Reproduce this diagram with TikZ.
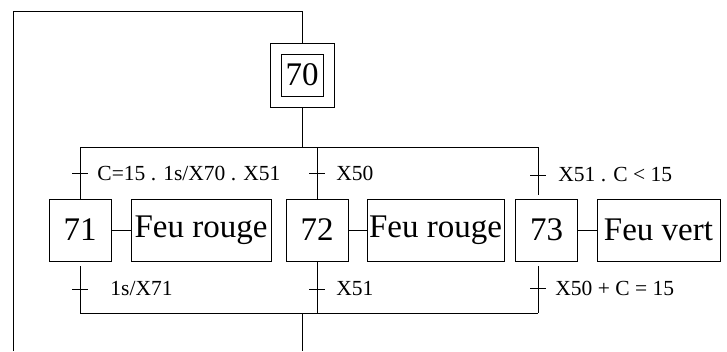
\documentclass[tikz,border=0pt]{standalone}
\usepackage{fontspec}
\setmainfont{Liberation Serif}
\usetikzlibrary{positioning}

\tikzset{
  stepbox/.style={draw,minimum width=62pt,minimum height=62pt,inner sep=2pt,
    font=\fontsize{33}{36}\selectfont},
  actbox/.style={draw,minimum height=62pt,inner sep=2pt,
    font=\fontsize{33}{36}\selectfont},
  cond/.style={anchor=west,inner sep=0pt,font=\fontsize{21.5}{24}\selectfont},
}

\begin{document}
\begin{tikzpicture}[x=1pt,y=-1pt,line width=0.9pt]
  \useasboundingbox (0,0) rectangle (727,351);
  % initial step
  \node[draw,minimum size=64pt] (s70o) at (302,75) {};
  \node[draw,minimum size=42pt,inner sep=2pt,font=\fontsize{33}{36}\selectfont] (s70) at (302,75) {70};
  % steps and actions
  \node[stepbox] (s71) at (80,230) {71};
  \node[actbox,minimum width=140pt] (a71) at (201,230) {Feu rouge};
  \node[stepbox] (s72) at (317,230) {72};
  \node[actbox,minimum width=137pt] (a72) at (435.5,230) {Feu rouge};
  \node[stepbox] (s73) at (546.5,230) {73};
  \node[actbox,minimum width=123pt] (a73) at (658.5,230) {Feu vert};
  \draw (s71) -- (a71);
  \draw (s72) -- (a72);
  \draw (s73) -- (a73);
  % divergence / convergence
  \coordinate (top) at (13,11);
  \coordinate (div) at (302,147);
  \coordinate (conv) at (302,313);
  \coordinate (b3) at (538,147);
  \coordinate (e3) at (538,313);
  \coordinate (out) at (302,351);
  \draw (13,351) -- (top) -| (s70o.north);
  \draw (s70o.south) -- (div);
  \draw (s71.north |- div) -- (b3);
  \draw (s71.north |- conv) -- (e3);
  \draw (conv) -- (out);
  \draw (s71.north |- div) -- (s71.north);
  \draw (s72.north |- div) -- (s72.north);
  \draw[shorten >=4pt] (b3) -- (b3 |- s73.north);
  \draw[shorten <=5pt] (s71.south) -- (s71.south |- conv);
  \draw (s72.south) -- (s72.south |- conv);
  \draw[shorten <=5pt] (e3 |- s73.south) -- (e3);
  % transitions
  \coordinate (t1) at (80,173);
  \coordinate (t2) at (317,173);
  \coordinate (t3) at (538,175);
  \coordinate (t4) at (80,289);
  \coordinate (t5) at (317,289);
  \coordinate (t6) at (538,288);
  \foreach \t in {t1,t2,t3,t4,t5,t6}
    \draw ([xshift=-8pt]\t) -- ([xshift=8pt]\t);
  \node[cond] (c1) at (97,173) {C=15 . 1s/X70 . X51};
  \node[cond] (c2) at (336,173) {X50};
  \node[cond] (c3) at (558,175) {X51 . C < 15};
  \node[cond] (c4) at (110,289) {1s/X71};
  \node[cond] (c5) at (336,289) {X51};
  \node[cond] (c6) at (555,288) {X50 + C = 15};
\end{tikzpicture}
\end{document}
